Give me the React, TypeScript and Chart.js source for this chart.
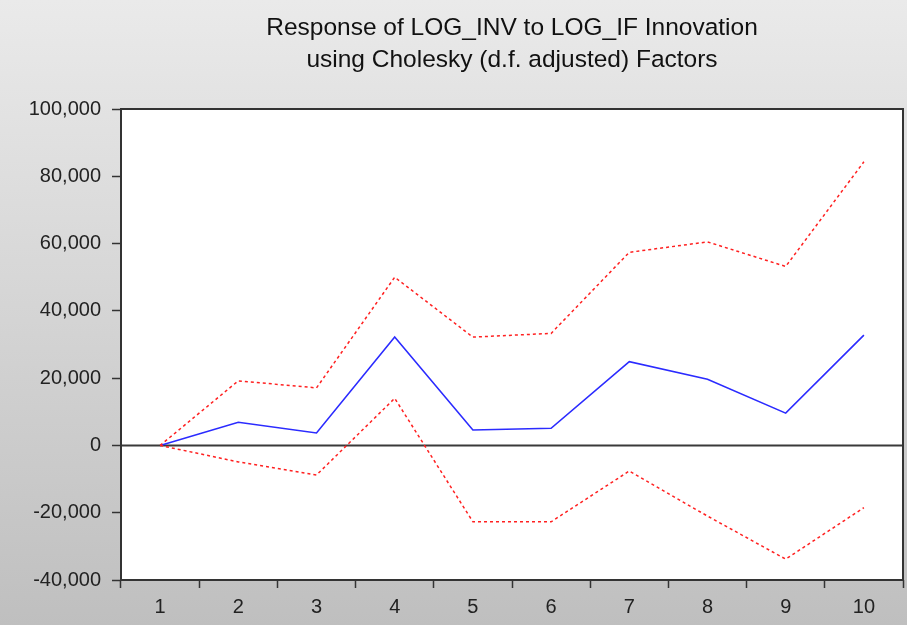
import { useEffect, useRef } from "react";
import { Chart, registerables } from "chart.js";

Chart.register(...registerables);

const periods = ["1", "2", "3", "4", "5", "6", "7", "8", "9", "10"];
const response = [0, 6900, 3700, 32200, 4600, 5100, 24900, 19700, 9600, 32800];
const upperBand = [0, 19200, 17100, 50000, 32200, 33300, 57400, 60500, 53200, 84300];
const lowerBand = [0, -4900, -8800, 14000, -22700, -22700, -7600, -21000, -33800, -18500];
const yTickValues = [-40000, -20000, 0, 20000, 40000, 60000, 80000, 100000];
const titleLines = [
  "Response of LOG_INV to LOG_IF Innovation",
  "using Cholesky (d.f. adjusted) Factors",
];

const FONT = '"Liberation Sans", Arial, sans-serif';

const framePlugin = {
  id: "frame",
  beforeDatasetsDraw(chart: any) {
    const { ctx, chartArea } = chart;
    ctx.save();
    ctx.fillStyle = "#ffffff";
    ctx.fillRect(chartArea.left, chartArea.top, chartArea.right - chartArea.left, chartArea.bottom - chartArea.top);
    // zero line
    const y0 = chart.scales.y.getPixelForValue(0);
    ctx.strokeStyle = "#3a3a3a";
    ctx.lineWidth = 2;
    ctx.beginPath();
    ctx.moveTo(chartArea.left, y0);
    ctx.lineTo(chartArea.right, y0);
    ctx.stroke();
    ctx.restore();
  },
  afterDraw(chart: any) {
    const { ctx, chartArea } = chart;
    ctx.save();
    ctx.strokeStyle = "#333333";
    ctx.lineWidth = 2;
    ctx.strokeRect(chartArea.left, chartArea.top, chartArea.right - chartArea.left, chartArea.bottom - chartArea.top);
    ctx.fillStyle = "#111111";
    ctx.font = `24.5px ${FONT}`;
    ctx.textAlign = "center";
    ctx.textBaseline = "alphabetic";
    const cx = (chartArea.left + chartArea.right) / 2;
    ctx.fillText(titleLines[0], cx, 35);
    ctx.fillText(titleLines[1], cx, 67);
    ctx.restore();
  },
};

export default function App() {
  const ref = useRef<HTMLCanvasElement | null>(null);

  useEffect(() => {
    if (!ref.current) return;
    const chart = new Chart(ref.current, {
      type: "line",
      data: {
        labels: periods,
        datasets: [
          {
            data: upperBand,
            borderColor: "#ff2020",
            borderWidth: 1.5,
            borderDash: [3, 3],
            pointRadius: 0,
            tension: 0,
            fill: false,
          },
          {
            data: lowerBand,
            borderColor: "#ff2020",
            borderWidth: 1.5,
            borderDash: [3, 3],
            pointRadius: 0,
            tension: 0,
            fill: false,
          },
          {
            data: response,
            borderColor: "#2b2bff",
            borderWidth: 1.6,
            pointRadius: 0,
            tension: 0,
            fill: false,
          },
        ],
      },
      options: {
        responsive: false,
        animation: false,
        layout: { padding: { top: 109, right: 4, left: 0, bottom: 0 } },
        plugins: {
          legend: { display: false },
          title: { display: false },
          tooltip: { enabled: false },
        },
        scales: {
          x: {
            type: "category",
            offset: true,
            grid: {
              offset: true,
              drawOnChartArea: false,
              drawTicks: true,
              tickLength: 8,
              tickColor: "#333333",
              tickWidth: 1.5,
              color: "#333333",
            },
            border: { display: false },
            ticks: {
              color: "#222222",
              font: { family: FONT, size: 20 },
              padding: 7,
              maxRotation: 0,
              autoSkip: false,
            },
            afterFit: (scale: any) => {
              scale.height = 45;
            },
          },
          y: {
            min: -40000,
            max: 100000,
            afterBuildTicks: (scale: any) => {
              scale.ticks = yTickValues.map((v) => ({ value: v }));
            },
            grid: {
              drawOnChartArea: false,
              drawTicks: true,
              tickLength: 9,
              tickColor: "#333333",
              tickWidth: 1.5,
            },
            border: { display: false },
            ticks: {
              color: "#222222",
              font: { family: FONT, size: 20 },
              padding: 11,
              callback: (v: any) => Number(v).toLocaleString("en-US"),
            },
            afterFit: (scale: any) => {
              scale.width = 121;
            },
          },
        },
      },
      plugins: [framePlugin],
    });
    return () => chart.destroy();
  }, []);

  return (
    <div
      style={{
        position: "absolute",
        left: 0,
        top: 0,
        width: 907,
        height: 625,
        background: "linear-gradient(to bottom, #eaeaea, #bfbfbf)",
      }}
    >
      <canvas ref={ref} width={907} height={625} style={{ width: 907, height: 625, display: "block" }} />
    </div>
  );
}
